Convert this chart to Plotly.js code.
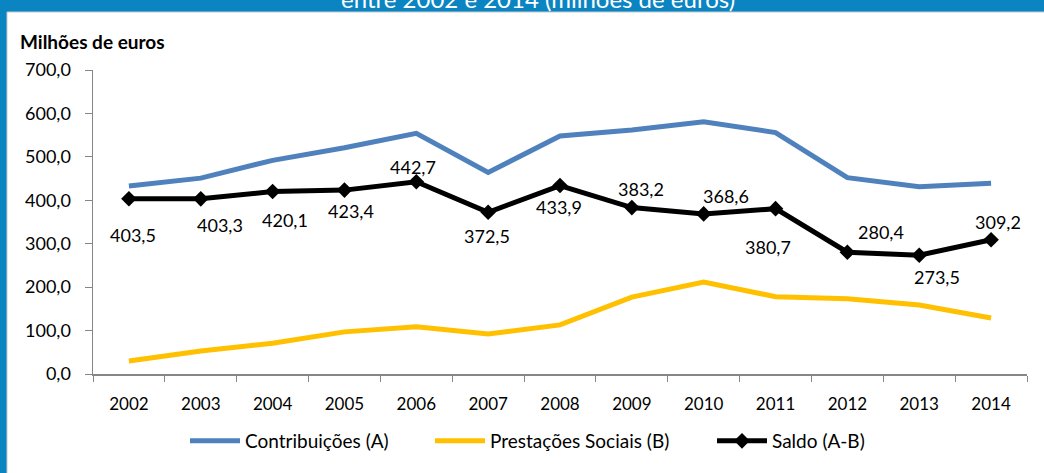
<!DOCTYPE html>
<html>
<head>
<meta charset="utf-8">
<script src="https://cdn.plot.ly/plotly-3.0.1.min.js"></script>
<style>
  html, body { margin: 0; padding: 0; background: #0b84c2; }
  #chart { width: 1044px; height: 473px; }
</style>
</head>
<body>
<div id="chart"></div>
<script>
// ---- data ----
const years = [2002, 2003, 2004, 2005, 2006, 2007, 2008, 2009, 2010, 2011, 2012, 2013, 2014];
const contribuicoes = [433, 451, 492, 521, 554, 464, 548, 562, 581, 556, 452, 431, 439];
const prestacoes = [30, 53, 71, 97, 109, 92, 113, 177, 212, 178, 173, 159, 129];
const saldo = [403.5, 403.3, 420.1, 423.4, 442.7, 372.5, 433.9, 383.2, 368.6, 380.7, 280.4, 273.5, 309.2];
const seriesNames = ['Contribuições (A)', 'Prestações Sociais (B)', 'Saldo (A-B)'];
const titleText = 'entre 2002 e 2014 (milhões de euros)';
const yAxisLabel = 'Milhões de euros';

// ---- label pixel offsets (style only) ----
const labelDX = [4, 19, 12, 7, -3, -1, -1, 9, 22, -8, 34, 18, 7];
const labelDY = [-36, -26, -28, -21, 15, -24, -21, 19, 18, -38, 20, -22, 18];

const FONT = 'Lato, "Open Sans", sans-serif';
const fmt = v => v.toFixed(1).replace('.', ',');
const PL = 93, PW = 934, PB = 374, PH = 304;
const px2x = p => (p - PL) / PW;
const px2y = p => (PB - p) / PH;

const traces = [
  { x: years, y: contribuicoes, name: seriesNames[0], type: 'scatter', mode: 'lines',
    line: { color: '#4f81bd', width: 5 }, legend: 'legend' },
  { x: years, y: prestacoes, name: seriesNames[1], type: 'scatter', mode: 'lines',
    line: { color: '#ffc000', width: 5 }, legend: 'legend2' },
  { x: years, y: saldo, name: seriesNames[2], type: 'scatter', mode: 'lines+markers',
    line: { color: '#000000', width: 5 },
    marker: { symbol: 'diamond', size: 12, color: '#000000' }, legend: 'legend3' }
];

const annotations = saldo.map((v, i) => ({
  x: years[i], y: v, xref: 'x', yref: 'y', text: fmt(v), showarrow: false,
  xshift: labelDX[i], yshift: labelDY[i],
  font: { family: FONT, size: 18, color: '#000' }
}));
annotations.push({
  x: px2x(18), y: px2y(41.7), xref: 'paper', yref: 'paper',
  xanchor: 'left', yanchor: 'middle', text: '<b>' + yAxisLabel + '</b>', showarrow: false,
  font: { family: FONT, size: 19, color: '#000' }
});
annotations.push({
  x: px2x(538), y: px2y(15), xref: 'paper', yref: 'paper',
  xanchor: 'center', yanchor: 'bottom', text: titleText, showarrow: false,
  font: { family: FONT, size: 24, color: '#ffffff' }
});

const legendBase = (xpx) => ({
  orientation: 'h', x: px2x(xpx), xanchor: 'left',
  y: px2y(441), yanchor: 'middle',
  font: { family: FONT, size: 19, color: '#000' },
  bgcolor: 'rgba(0,0,0,0)', itemwidth: 50
});

const layout = {
  width: 1044, height: 473,
  margin: { l: PL, r: 1044 - PL - PW, t: 70, b: 473 - PB },
  paper_bgcolor: '#0b84c2',
  plot_bgcolor: 'rgba(0,0,0,0)',
  separators: ',.',
  font: { family: FONT, size: 17, color: '#000' },
  showlegend: true,
  legend: legendBase(185),
  legend2: legendBase(430),
  legend3: legendBase(712),
  shapes: [
    { type: 'rect', xref: 'paper', yref: 'paper', layer: 'below',
      x0: px2x(7), x1: 1.1, y0: -0.5, y1: px2y(12),
      fillcolor: '#ffffff', line: { color: '#c8c8c8', width: 1 } }
  ],
  xaxis: {
    type: 'linear', range: [2001.5, 2014.5], tick0: 2002, dtick: 1, automargin: false,
    ticks: '', showline: true, linecolor: '#868686', linewidth: 1.5,
    showgrid: false, zeroline: false, ticklabelstandoff: 14,
    tickfont: { family: FONT, size: 17, color: '#000' },
    minor: { tick0: 2001.5, dtick: 1, ticks: 'outside', ticklen: 6, tickcolor: '#868686', showgrid: false }
  },
  yaxis: {
    range: [0, 700], dtick: 100, tickformat: '.1f', ticks: 'outside', ticklen: 7, automargin: false,
    tickcolor: '#868686', showline: true, linecolor: '#868686', linewidth: 1.5,
    showgrid: false, zeroline: false, ticklabelstandoff: 10,
    tickfont: { family: FONT, size: 18, color: '#000' }
  },
  annotations: annotations
};

Plotly.newPlot('chart', traces, layout, { displayModeBar: false, staticPlot: true });
</script>
</body>
</html>
